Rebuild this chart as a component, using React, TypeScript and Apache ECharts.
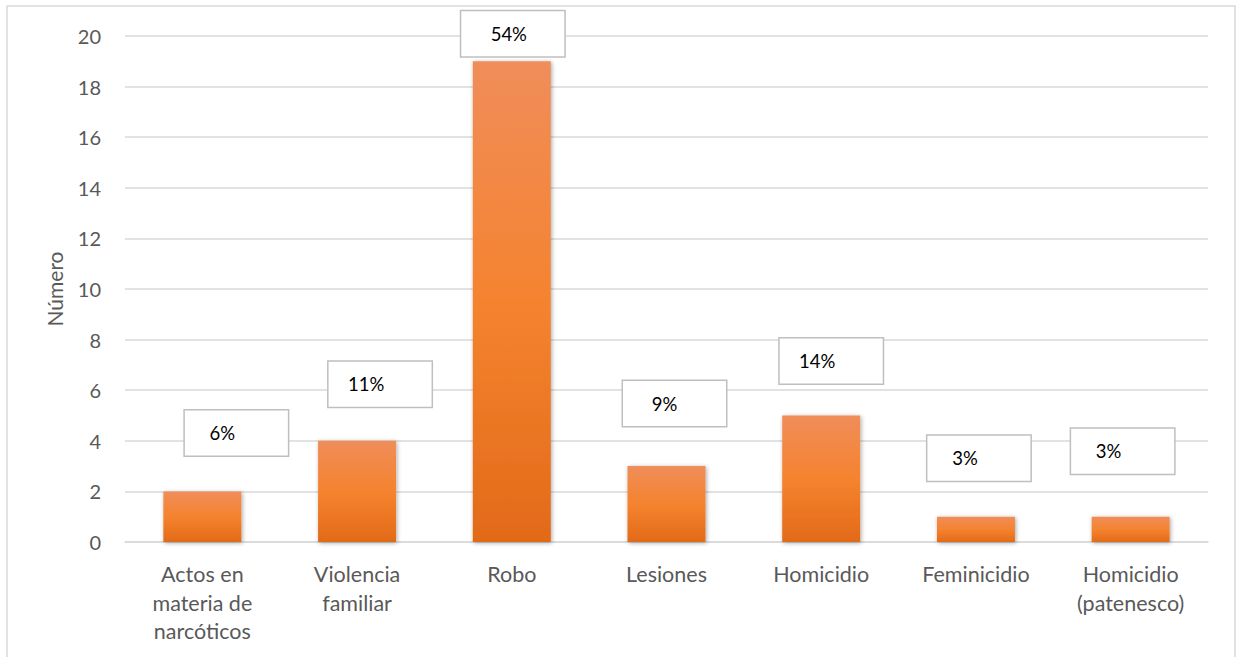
import React, { useEffect, useRef } from "react";
import * as echarts from "echarts";

// Offences recorded, with each share of the total shown in a boxed label
const categories = [
  "Actos en\nmateria de\nnarcóticos",
  "Violencia\nfamiliar",
  "Robo",
  "Lesiones",
  "Homicidio",
  "Feminicidio",
  "Homicidio\n(patenesco)",
];
const counts = [2, 4, 19, 3, 5, 1, 1];
const yTicks = { min: 0, max: 20, interval: 2 };
const yAxisTitle = "Número";

// Placement of each callout box relative to its bar: [dx, gap above bar, text shift]
const calloutPlacement: [number, number, number][] = [
  [34, 36, 14],
  [23, 34, 14],
  [1, 5, 4],
  [8, 40, 10],
  [10, 32, 14],
  [3, 36, 14],
  [-8, 43, 14],
];

const FONT = "Lato, 'Open Sans', sans-serif";

export default function App() {
  const ref = useRef<HTMLDivElement>(null);

  useEffect(() => {
    if (!ref.current) return;
    const chart = echarts.init(ref.current, undefined, { renderer: "svg" });
    const total = counts.reduce((a, b) => a + b, 0);

    const barColor = new echarts.graphic.LinearGradient(0, 0, 0, 1, [
      { offset: 0, color: "#f08d5a" },
      { offset: 0.5, color: "#f5832f" },
      { offset: 1, color: "#e26a18" },
    ]);

    const data = counts.map((v, i) => {
      const [dx, gap, shift] = calloutPlacement[i];
      return {
        value: v,
        label: {
          show: true,
          position: "top",
          distance: gap,
          offset: [dx, 0],
          formatter: `${Math.round((v / total) * 100)}%`,
          fontFamily: FONT,
          fontSize: 18.5,
          color: "#000000",
          backgroundColor: "#ffffff",
          borderColor: "#bfbfbf",
          borderWidth: 1.5,
          width: 75,
          height: 21,
          lineHeight: 21,
          align: "center",
          padding: [12, 14 + shift, 12, 14 - shift],
        },
      };
    });

    chart.setOption({
      animation: false,
      backgroundColor: "#ffffff",
      textStyle: { fontFamily: FONT },
      graphic: [
        {
          type: "rect",
          silent: true,
          shape: { x: 7, y: 6, width: 1228, height: 700 },
          style: { fill: "none", stroke: "#d9d9d9", lineWidth: 1.5 },
        },
      ],
      grid: { left: 125, right: 30, top: 36, bottom: 115, containLabel: false },
      xAxis: {
        type: "category",
        data: categories,
        axisLine: { lineStyle: { color: "#d9d9d9", width: 1.5 } },
        axisTick: { show: false },
        axisLabel: {
          color: "#595959",
          fontSize: 21.5,
          lineHeight: 28.5,
          margin: 18,
          fontFamily: FONT,
          interval: 0,
        },
      },
      yAxis: {
        type: "value",
        min: yTicks.min,
        max: yTicks.max,
        interval: yTicks.interval,
        name: yAxisTitle,
        nameLocation: "middle",
        nameGap: 60,
        nameTextStyle: { color: "#595959", fontSize: 21, fontFamily: FONT },
        axisLine: { show: false },
        axisTick: { show: false },
        splitLine: { lineStyle: { color: "#d9d9d9", width: 1.5 } },
        axisLabel: { color: "#595959", fontSize: 20, margin: 24, fontFamily: FONT },
      },
      series: [
        {
          type: "bar",
          data,
          barWidth: 78,
          itemStyle: {
            color: barColor,
            shadowColor: "rgba(0,0,0,0.35)",
            shadowBlur: 4,
            shadowOffsetX: 1,
            shadowOffsetY: 1,
          },
        },
      ],
    });

    return () => chart.dispose();
  }, []);

  return (
    <div
      ref={ref}
      style={{ position: "fixed", left: 0, top: 0, width: 1238, height: 657 }}
    />
  );
}
